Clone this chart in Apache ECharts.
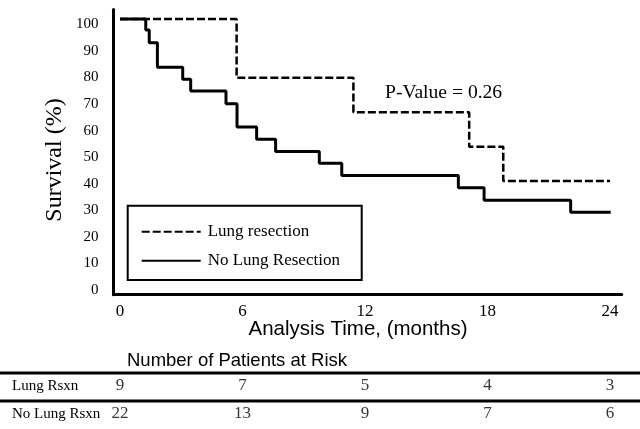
<!DOCTYPE html>
<html>
<head>
<meta charset="utf-8">
<script src="https://cdn.jsdelivr.net/npm/echarts@6/dist/echarts.min.js"></script>
<style>
html,body{margin:0;padding:0;background:#fff;}
#chart{width:640px;height:429px;}
</style>
</head>
<body>
<div id="chart"></div>
<script>
// ---- data ----
const tickMonths = [0, 6, 12, 18, 24];
const yTicks = [0, 10, 20, 30, 40, 50, 60, 70, 80, 90, 100];
const seriesNames = ['Lung resection', 'No Lung Resection'];
const lungTime = [0, 5.71, 11.43, 17.1, 18.77, 24.0];
const lungSurv = [100, 78.7, 66.2, 53.7, 41.2, 41.2];
const noLungTime = [0, 1.26, 1.43, 1.83, 3.07, 3.46, 5.19, 5.73, 6.69, 7.62, 9.76, 10.86, 16.57, 17.83, 22.07, 24.03];
const noLungSurv = [100, 96.0, 91.4, 82.5, 78.1, 73.9, 69.3, 60.8, 56.4, 51.9, 47.7, 43.2, 38.8, 34.3, 29.9, 29.9];
const riskRows = ['Lung Rsxn', 'No Lung Rsxn'];
const lungRisk = [9, 7, 5, 4, 3];
const noLungRisk = [22, 13, 9, 7, 6];
const xTitle = 'Analysis Time, (months)';
const yTitle = 'Survival (%)';
const tableTitle = 'Number of Patients at Risk';
const pValueText = 'P-Value = 0.26';

const SERIF = 'Liberation Serif';
const SANS = 'Liberation Sans';

const chart = echarts.init(document.getElementById('chart'), null, {renderer: 'canvas'});

const riskData = [];
tickMonths.forEach((m, i) => { riskData.push([m, 0, lungRisk[i]]); });
tickMonths.forEach((m, i) => { riskData.push([m, 1, noLungRisk[i]]); });

const option = {
  backgroundColor: '#fff',
  animation: false,
  grid: [
    {left: 113.5, right: 18.3, top: 9.5, bottom: 134.3, containLabel: false, outerBoundsMode: 'none'},
    {left: 113.5, right: 18.3, top: 372, height: 56, containLabel: false, outerBoundsMode: 'none'}
  ],
  xAxis: [
    {
      gridIndex: 0, type: 'value', min: -0.32, max: 24.57,
      axisLine: {onZero: false, lineStyle: {color: '#000', width: 3}},
      axisTick: {show: false},
      splitLine: {show: false},
      axisLabel: {customValues: tickMonths, color: '#000', fontFamily: SERIF, fontSize: 17, margin: 8}
    },
    {gridIndex: 1, type: 'value', min: -0.32, max: 24.57, show: false}
  ],
  yAxis: [
    {
      gridIndex: 0, type: 'value', min: 0, max: 103.44, position: 'left',
      axisLine: {show: true, onZero: false, lineStyle: {color: '#000', width: 3}},
      axisTick: {show: false}, axisLabel: {show: false}, splitLine: {show: false}
    },
    {
      gridIndex: 0, type: 'value', min: -1.77, max: 105.57, position: 'left', offset: 0,
      axisLine: {show: false, onZero: false}, axisTick: {show: false}, splitLine: {show: false},
      axisLabel: {customValues: yTicks, color: '#000', fontFamily: SERIF, fontSize: 15, margin: 15}
    },
    {
      gridIndex: 1, type: 'category', data: riskRows, inverse: true, position: 'left',
      axisLine: {show: false}, axisTick: {show: false}, splitLine: {show: false},
      axisLabel: {align: 'left', margin: 101.5, color: '#000', fontFamily: SERIF, fontSize: 15}
    }
  ],
  legend: {
    data: seriesNames,
    orient: 'vertical',
    left: 127.7, top: 205.7,
    padding: [17.5, 0, 0, 13],
    itemWidth: 59, itemHeight: 17, itemGap: 12,
    itemStyle: {color: 'rgba(0,0,0,0)', opacity: 0, borderWidth: 0},
    textStyle: {fontFamily: SERIF, fontSize: 17, color: '#000', padding: [0, 0, 0, 2]}
  },
  series: [
    {
      name: seriesNames[0], type: 'line', step: 'end', symbol: 'none',
      xAxisIndex: 0, yAxisIndex: 0,
      data: lungTime.map((t, i) => [t, lungSurv[i]]),
      lineStyle: {color: '#000', width: 2.5, type: [8, 3]},
      itemStyle: {color: '#000'}
    },
    {
      name: seriesNames[1], type: 'line', step: 'end', symbol: 'none',
      xAxisIndex: 0, yAxisIndex: 0,
      data: noLungTime.map((t, i) => [t, noLungSurv[i]]),
      lineStyle: {color: '#000', width: 3},
      itemStyle: {color: '#000'}
    },
    {
      name: 'risk', type: 'scatter', xAxisIndex: 1, yAxisIndex: 2,
      symbolSize: 1, itemStyle: {color: 'rgba(0,0,0,0)'},
      data: riskData,
      label: {show: true, position: 'inside', formatter: p => String(p.value[2]), color: '#000', fontFamily: SERIF, fontSize: 17}
    }
  ],
  graphic: [
    {type: 'rect', shape: {x: 127.7, y: 205.7, width: 234, height: 74.3}, style: {fill: 'none', stroke: '#000', lineWidth: 2}, silent: true},
    {type: 'text', x: 385, y: 93, style: {text: pValueText, fontFamily: SERIF, fontSize: 19.6, fill: '#000', align: 'left', verticalAlign: 'middle'}},
    {type: 'text', x: 55, y: 160, rotation: Math.PI / 2, style: {text: yTitle, fontFamily: SERIF, fontSize: 24, fill: '#000', align: 'center', verticalAlign: 'middle'}},
    {type: 'text', x: 358, y: 329.5, style: {text: xTitle, fontFamily: SANS, fontSize: 20.5, fill: '#000', align: 'center', verticalAlign: 'middle'}},
    {type: 'text', x: 237, y: 361, style: {text: tableTitle, fontFamily: SANS, fontSize: 18.5, fill: '#000', align: 'center', verticalAlign: 'middle'}},
    {type: 'line', shape: {x1: 0, y1: 373, x2: 640, y2: 373}, style: {stroke: '#000', lineWidth: 3}},
    {type: 'line', shape: {x1: 0, y1: 401, x2: 640, y2: 401}, style: {stroke: '#000', lineWidth: 3}}
  ]
};
chart.setOption(option);
</script>
</body>
</html>
